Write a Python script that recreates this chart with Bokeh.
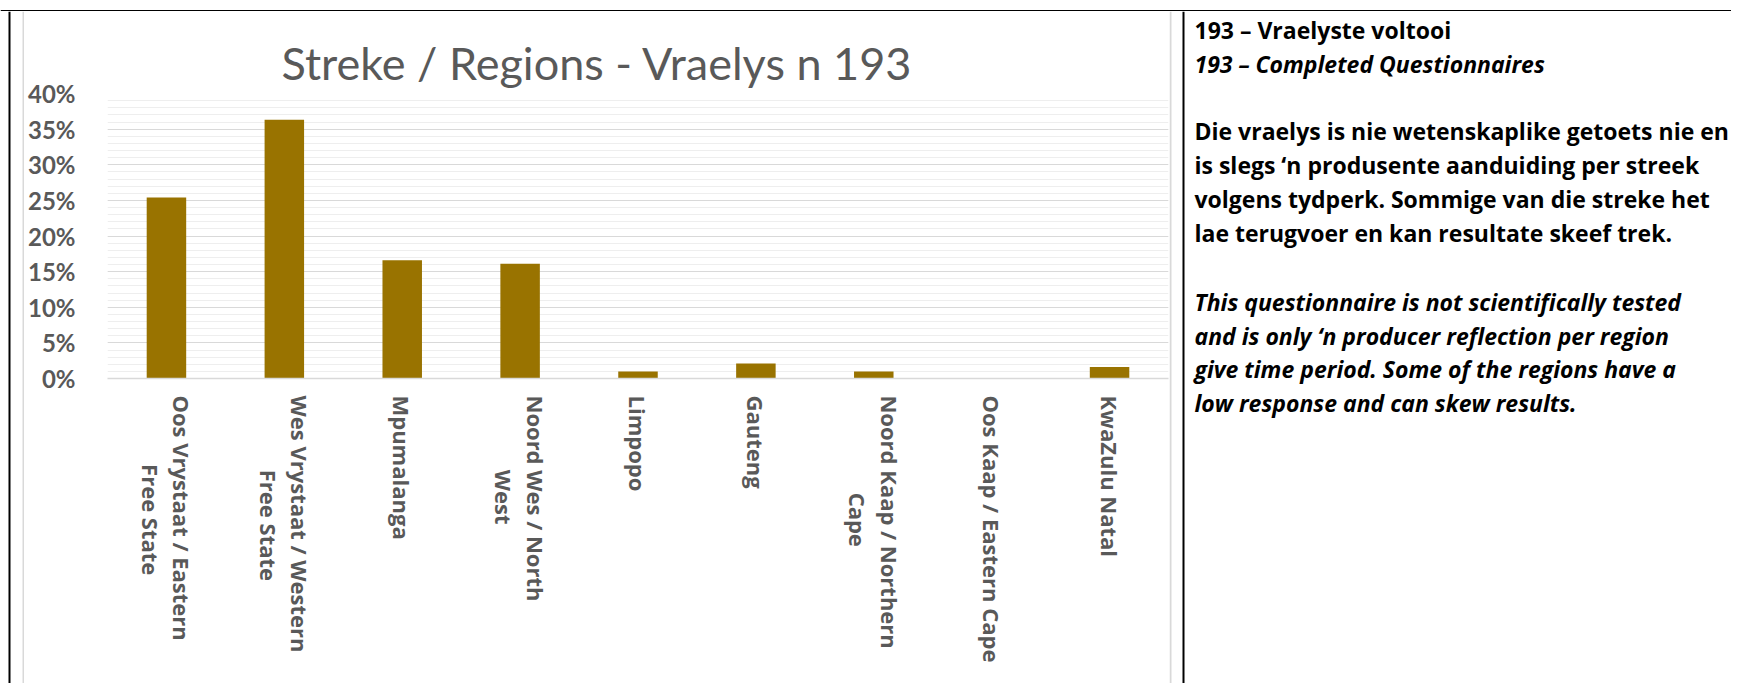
import math
from bokeh.plotting import figure
from bokeh.layouts import column, row
from bokeh.models import (FactorRange, Range1d, SingleIntervalTicker, NumeralTickFormatter)
from bokeh.core.properties import value
from bokeh.embed import file_html
from bokeh.resources import INLINE

# ---- data ----
categories = [
    ("Oos Vrystaat / Eastern", "Free State"),
    ("Wes Vrystaat / Western", "Free State"),
    ("Mpumalanga", ""),
    ("Noord Wes / North", "West"),
    ("Limpopo", ""),
    ("Gauteng", ""),
    ("Noord Kaap / Northern", "Cape"),
    ("Oos Kaap / Eastern Cape", ""),
    ("KwaZulu Natal", ""),
]
shares = [0.254, 0.363, 0.166, 0.161, 0.010, 0.021, 0.010, 0.0, 0.016]

title_text = "Streke / Regions -  Vraelys n 193"

bold_lines = [
    "193 \u2013 Vraelyste voltooi",
    "Die vraelys is nie wetenskaplike getoets nie en",
    "is slegs \u2018n produsente aanduiding per streek",
    "volgens tydperk. Sommige van die streke het",
    "lae terugvoer en kan resultate skeef trek.",
]
italic_lines = [
    "193 \u2013 Completed Questionnaires",
    "This questionnaire is not scientifically tested",
    "and is only \u2018n producer reflection per region",
    "give time period. Some of the regions have a",
    "low response and can skew results.",
]

# ---- layout / style constants ----
GRAY = "#595959"
BAR = "#997300"
NBSP = "\u00a0"
second_line_indent = [12, 13, 0, 13, 0, 0, 17, 0, 0]   # centring of 2nd label line
bold_y = [18, 119, 153, 187, 221]
italic_y = [52, 290, 324, 357, 391]
TEXT_X = 9

def factor(pair, indent):
    a, b = pair
    return a if not b else a + "\n" + NBSP * indent + b

factors = [factor(c, i) for c, i in zip(categories, second_line_indent)]

def blank(w, h, bg="white"):
    f = figure(width=w, height=h, x_range=Range1d(0, w), y_range=Range1d(h, 0),
               min_border=0, x_axis_type=None, y_axis_type=None,
               toolbar_location=None, output_backend="svg", frame_align=False)
    f.outline_line_color = None
    f.background_fill_color = bg
    f.border_fill_color = bg
    f.xgrid.visible = False
    f.ygrid.visible = False
    return f

TOP_H = 11
ROW_H = 672

# top border strip
top = blank(1731, TOP_H)
top.quad(left=[0], right=[1731], top=[8.5], bottom=[11], fill_color="black", line_color=None)

# left strip: outer black border + chart-area gray edge
left = blank(24, ROW_H)
left.quad(left=[8, 22], right=[10, 24], top=[0, 0], bottom=[ROW_H, ROW_H],
          fill_color=["black", "#d9d9d9"], line_color=None)

# right strip: chart-area gray edge + black divider
right = blank(16, ROW_H)
right.quad(left=[0, 13], right=[2, 15], top=[0, 0], bottom=[ROW_H, ROW_H],
           fill_color=["#d9d9d9", "black"], line_color=None)

# text panel
txt = blank(546, ROW_H)
txt.text(x=[TEXT_X] * len(bold_lines), y=bold_y, text=bold_lines,
         text_font=value("Open Sans"), text_font_style="bold", text_font_size="23px",
         text_color="black", text_baseline="alphabetic", text_align="left")
txt.text(x=[TEXT_X] * len(italic_lines), y=italic_y, text=italic_lines,
         text_font=value("Open Sans"), text_font_style="bold italic", text_font_size="23px",
         text_color="black", text_baseline="alphabetic", text_align="left")

# chart
p = figure(x_range=FactorRange(*factors, range_padding=0),
           y_range=Range1d(0, 0.4),
           width=1145, height=ROW_H, output_backend="svg", toolbar_location=None,
           min_border_left=83, min_border_right=1,
           min_border_top=82, min_border_bottom=ROW_H - 82 - 285, frame_align=False)
p.outline_line_color = None

p.vbar(x=factors, top=shares, width=0.335, fill_color=BAR, line_color=None)

p.title.text = title_text
p.title.align = "left"
p.title.offset = 174
p.title.standoff = 7
p.title.text_font = "Lato"
p.title.text_font_style = "normal"
p.title.text_font_size = "45px"
p.title.text_color = GRAY

p.xgrid.visible = False
p.ygrid.grid_line_color = "#d9d9d9"
p.ygrid.grid_line_width = 1.2
p.ygrid.minor_grid_line_color = "#eeeeee"
p.ygrid.minor_grid_line_width = 1

p.yaxis.ticker = SingleIntervalTicker(interval=0.05, num_minor_ticks=5)
p.yaxis.formatter = NumeralTickFormatter(format="0%")
p.yaxis.axis_line_color = None
p.yaxis.major_tick_line_color = None
p.yaxis.minor_tick_line_color = None
p.yaxis.major_tick_out = 0
p.yaxis.major_label_standoff = 28
p.yaxis.major_label_text_font = "Lato"
p.yaxis.major_label_text_font_style = "bold"
p.yaxis.major_label_text_font_size = "24px"
p.yaxis.major_label_text_color = GRAY

p.xaxis.axis_line_color = "#d9d9d9"
p.xaxis.axis_line_width = 1.5
p.xaxis.major_tick_line_color = None
p.xaxis.minor_tick_line_color = None
p.xaxis.major_tick_out = 0
p.xaxis.major_label_standoff = 17
p.xaxis.major_label_orientation = -math.pi / 2
p.xaxis.major_label_text_font = "Open Sans"
p.xaxis.major_label_text_font_style = "bold"
p.xaxis.major_label_text_font_size = "22px"
p.xaxis.major_label_text_color = GRAY
p.xaxis.major_label_text_line_height = 1.05

layout = column(top, row(left, p, right, txt))

open("out.html", "w").write(file_html(layout, INLINE))
